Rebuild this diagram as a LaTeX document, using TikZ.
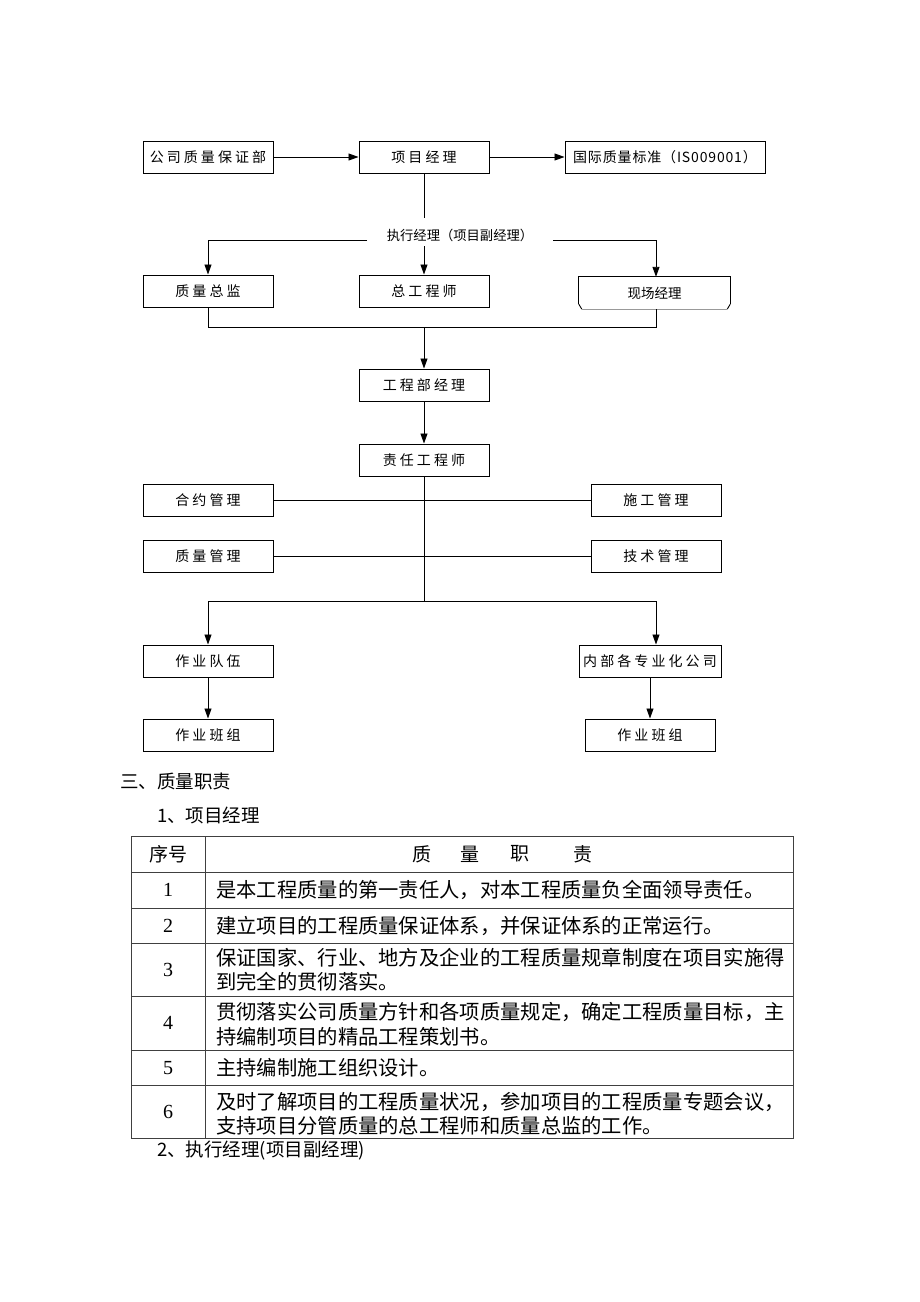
\documentclass[tikz,border=0pt]{standalone}
\usepackage{fontspec}
\setmainfont{Liberation Serif}
\newfontfamily\cjk{Noto Sans CJK SC}
\newfontfamily\cjkls[LetterSpace=22]{Noto Sans CJK SC}
\newfontfamily\cjkss[LetterSpace=6]{Noto Sans CJK SC}
\usetikzlibrary{arrows.meta}
\begin{document}
\begin{tikzpicture}[x=1pt,y=-1pt,
  box/.style={draw=black,line width=1pt,minimum height=32pt,minimum width=130pt,inner sep=0pt,font=\cjkls\fontsize{14}{16}\selectfont},
  lab/.style={inner sep=0pt,font=\cjk\fontsize{13.3}{16}\selectfont},
  arr/.style={line width=0.9pt,-{Triangle[length=10pt,width=7pt]}},
  ln/.style={line width=0.9pt},
  tline/.style={draw=black!75,line width=1pt},
  ttxt/.style={inner sep=0pt,anchor=west,font=\cjk\fontsize{20.3}{24}\selectfont},
  tnum/.style={inner sep=0pt,font=\fontsize{20}{24}\selectfont},
  head/.style={inner sep=0pt,font=\cjk\fontsize{19}{22}\selectfont}]
\useasboundingbox (0,0) rectangle (920,1302);
\fill[white] (0,0) rectangle (920,1302);

% row 1
\node[box] (gs) at (208,157) {公司质量保证部};
\node[box] (pm) at (424,157) {项目经理};
\node[box,minimum width=200pt,font=\cjkss\fontsize{14}{16}\selectfont] (iso) at (665,157) {国际质量标准（IS009001）};
\draw[arr] (gs) -- (pm);
\draw[arr] (pm) -- (iso);
\coordinate (pmend) at (424,218);
\draw[ln] (pm.south) -- (pmend);

% executive manager
\node[lab] (ex) at (460,235) {执行经理（项目副经理）};
\coordinate (exl) at (367,240);
\coordinate (exr) at (553,240);
\coordinate (exm) at (424,246);

% row 2
\node[box] (zj) at (208,291) {质量总监};
\node[box] (zg) at (424,291) {总工程师};
\node[minimum height=32pt,minimum width=151pt,inner sep=0pt,font=\cjk\fontsize{13.5}{16}\selectfont] (xc) at (654.5,293) {现场经理};
\draw[ln,line join=miter] ([yshift=5pt]xc.south west) -- (xc.north west) -- (xc.north east) -- ([yshift=5pt]xc.south east);
\draw[ln] ([xshift=3pt]xc.south west) -- ([yshift=5pt]xc.south west);
\draw[ln] ([xshift=-3pt]xc.south east) -- ([yshift=5pt]xc.south east);
\draw[black!40,line width=0.6pt] ([xshift=3pt]xc.south west) -- ([xshift=-3pt]xc.south east);
\draw[arr] (exl) -| (zj.north);
\draw[arr] (exr) -| (xc.north -| 656,0);
\draw[arr] (exm) -- (zg.north);

% join below row 2
\coordinate (j1) at (208,327);
\coordinate (j2) at (656,327);
\coordinate (j3) at (424,327);
\node[box] (gb) at (424,385) {工程部经理};
\draw[ln] (zj.south) -- (j1) -- (j2) -- (xc.south -| j2);
\draw[arr] (j3) -- (gb.north);

\node[box] (zr) at (424,460) {责任工程师};
\draw[arr] (gb.south) -- (zr.north);

\node[box] (hy) at (208,500) {合约管理};
\node[box] (sg) at (656,500) {施工管理};
\node[box] (zl) at (208,556) {质量管理};
\node[box] (js) at (656,556) {技术管理};
\draw[ln] (hy.east) -- (sg.west);
\draw[ln] (zl.east) -- (js.west);
\coordinate (sp) at (424,601);
\draw[ln] (zr.south) -- (sp);

\node[box] (dw) at (208,661) {作业队伍};
\node[box,minimum width=142pt] (nb) at (650,661) {内部各专业化公司};
\coordinate (spl) at (208,601);
\coordinate (spr) at (656,601);
\draw[ln] (spl) -- (spr);
\draw[arr] (spl) -- (dw.north);
\draw[arr] (spr) -- (nb.north -| spr);

\node[box] (b1) at (208,735) {作业班组};
\node[box] (b2) at (650,735) {作业班组};
\draw[arr] (dw.south) -- (b1.north);
\draw[arr] (nb.south) -- (b2.north);

% section text
\node[inner sep=0pt,anchor=west,font=\cjk\fontsize{18.5}{22}\selectfont] (s3) at (120,781) {三、质量职责};
\node[inner sep=0pt,anchor=west,font=\cjk\fontsize{18.5}{22}\selectfont] (s1) at (157,815) {1、项目经理};
\node[inner sep=0pt,anchor=west,font=\cjk\fontsize{18.5}{22}\selectfont] (s2) at (157,1151) {2、执行经理(项目副经理)};

% table
\draw[tline] (131,836) rectangle (793,1138);
\foreach \yy in {872,908,943,996,1050,1085} \draw[tline] (131,\yy) -- (793,\yy);
\draw[tline] (205,836) -- (205,1138);

\node[head] (h0) at (168,854) {序号};
\node[head] (h1) at (422,854) {质};
\node[head] (h2) at (470,854) {量};
\node[head] (h3) at (520,854) {职};
\node[head] (h4) at (583,854) {责};

\node[tnum] (n1) at (168,890) {1};
\node[tnum] (n2) at (168,926) {2};
\node[tnum] (n3) at (168,970) {3};
\node[tnum] (n4) at (168,1023) {4};
\node[tnum] (n5) at (168,1068) {5};
\node[tnum] (n6) at (168,1112) {6};

\node[ttxt] (t1) at (216,890) {是本工程质量的第一责任人，对本工程质量负全面领导责任。};
\node[ttxt] (t2) at (216,926) {建立项目的工程质量保证体系，并保证体系的正常运行。};
\node[ttxt] (t3a) at (216,958) {保证国家、行业、地方及企业的工程质量规章制度在项目实施得};
\node[ttxt] (t3b) at (216,982) {到完全的贯彻落实。};
\node[ttxt] (t4a) at (216,1012) {贯彻落实公司质量方针和各项质量规定，确定工程质量目标，主};
\node[ttxt] (t4b) at (216,1037) {持编制项目的精品工程策划书。};
\node[ttxt] (t5) at (216,1068) {主持编制施工组织设计。};
\node[ttxt] (t6a) at (216,1102) {及时了解项目的工程质量状况，参加项目的工程质量专题会议，};
\node[ttxt] (t6b) at (216,1126) {支持项目分管质量的总工程师和质量总监的工作。};
\end{tikzpicture}
\end{document}
